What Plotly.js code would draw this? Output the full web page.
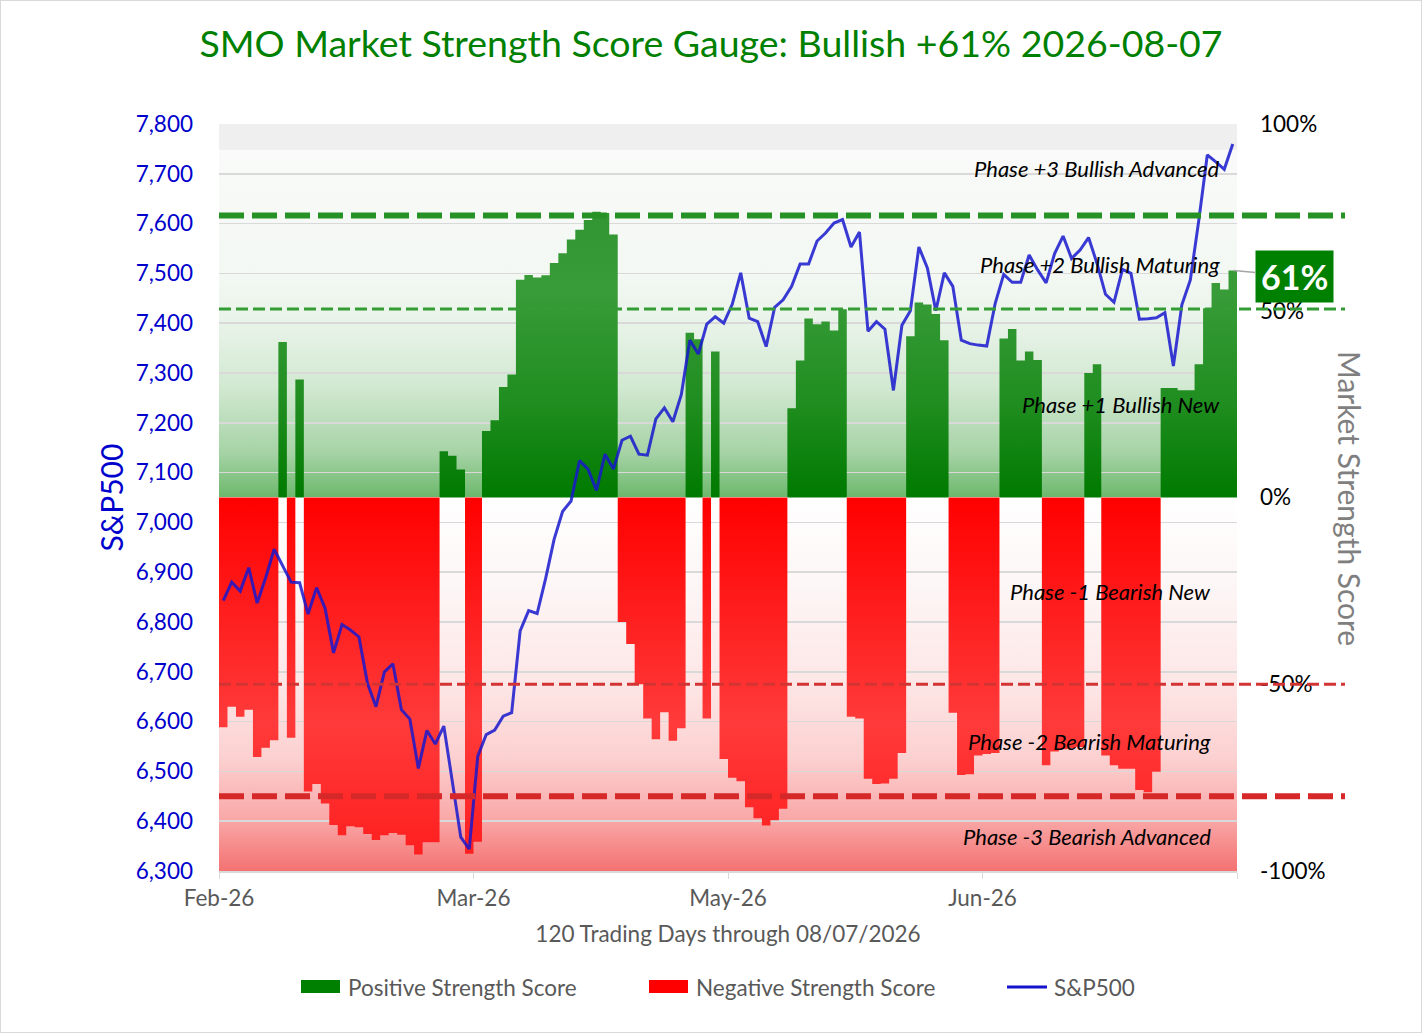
<!DOCTYPE html>
<html>
<head>
<meta charset="utf-8">
<script src="https://cdn.plot.ly/plotly-3.0.1.min.js"></script>
<style>
  body { margin: 0; background: #fff; }
  #wrap { position: relative; width: 1422px; height: 1033px; }
  #frame { position: absolute; left: 0; top: 0; width: 1422px; height: 1033px;
           box-sizing: border-box; border: 1px solid #d9d9d9; pointer-events: none; }
</style>
</head>
<body>
<div id="wrap">
  <div id="chart" style="width:1422px;height:1033px;"></div>
  <div id="frame"></div>
</div>
<script>
// Market strength score (%) per trading day, 120 days
const scores = [
  -61.5, -56, -58.7, -56.8, -69.5, -67, -65, 41.6, -64.3, 31.6,
  -78.7, -76.7, -81.9, -87.7, -90.4, -88, -88.3, -90.1, -91.7, -90.4,
  -89.8, -90.3, -93.1, -95.6, -92.3, -92.3, 12.4, 11.2, 7.5, -95.4,
  -92.2, 17.8, 20.7, 29.6, 32.9, 58.3, 59.6, 58.9, 59.5, 62.8,
  65.4, 69.1, 71.7, 74.3, 76.5, 76.2, 70.4, -33.3, -39.2, -50,
  -59.2, -64.7, -57.5, -65.1, -61.8, 44.1, 42.4, -59.2, 39.1, -70,
  -75, -76, -82.9, -85.9, -87.8, -86.4, -83.3, 23.9, 36.7, 47.9,
  46.4, 47.1, 44.7, 50.4, -58.7, -59.2, -75.3, -76.7, -76.6, -75.3,
  -68.4, 43.2, 52.2, 51.7, 49.1, 42.1, -57.6, -74.3, -74.1, -69.1,
  -68.7, -68.4, 42.6, 45.1, 36.7, 39.1, 36.8, -71.7, -68, -67.4,
  -67.1, -66.8, 33.3, 35.7, -69.1, -71.7, -72.6, -72.6, -78.3, -78.9,
  -73.4, 29.3, 29.3, 28.7, 28.7, 35.7, 50.7, 57.4, 55.7, 60.8
];

// S&P500 close per trading day
const spx = [
  6843, 6880, 6862, 6909, 6838, 6889, 6946, 6914, 6880, 6879,
  6816, 6869, 6828, 6738, 6795, 6784, 6770, 6677, 6630, 6700,
  6716, 6624, 6605, 6506, 6582, 6555, 6591, 6480, 6368, 6344,
  6530, 6574, 6583, 6611, 6618, 6782, 6823, 6817, 6887, 6966,
  7022, 7043, 7124, 7107, 7064, 7137, 7107, 7165, 7173, 7137,
  7135, 7208, 7230, 7202, 7257, 7366, 7338, 7398, 7413, 7400,
  7438, 7501, 7410, 7403, 7353, 7432, 7447, 7474, 7519, 7519,
  7565, 7581, 7601, 7608, 7553, 7583, 7384, 7403, 7388, 7265,
  7396, 7425, 7553, 7511, 7425, 7501, 7474, 7366, 7359, 7356,
  7354, 7440, 7498, 7482, 7482, 7537, 7507, 7481, 7540, 7575,
  7530, 7547, 7572, 7520, 7458, 7442, 7508, 7500, 7408, 7409,
  7411, 7421, 7314, 7437, 7487, 7607, 7738, 7724, 7709, 7760
];

const tickDays = [0, 30, 60, 90, 120];
const tickLabels = ['Feb-26', 'Mar-26', 'May-26', 'Jun-26', ''];
const pctTicks = [-100, -50, 0, 50, 100];

const phaseLabels = ['Phase +3 Bullish Advanced', 'Phase +2 Bullish Maturing', 'Phase +1 Bullish New',
                     'Phase -1 Bearish New', 'Phase -2 Bearish Maturing', 'Phase -3 Bearish Advanced'];
const phaseLevels = [88, 62.4, 25, -25.2, -65.4, -90.8];

// phase threshold lines: level, colour, width, dash
const thresholds = [
  {level: 75.5, color: 'rgb(38,146,38)', width: 6, dash: '25px,8px'},
  {level: 50.5, color: 'rgb(52,156,52)', width: 3, dash: '12px,5px'},
  {level: -50, color: 'rgb(210,52,52)', width: 3, dash: '12px,5px'},
  {level: -80, color: 'rgb(214,40,40)', width: 6, dash: '25px,8px'}
];

const FONT = 'Lato, "Open Sans", sans-serif';
const TXT = 22.5;

// plot area in pixels
const PL = 219, PR = 1237, PT = 124, PB = 871;
const px = x => (x - PL) / (PR - PL);
const py = y => (PB - y) / (PB - PT);

// one stepped polygon per run of same-sign days
function runPolygons(sign) {
  const xs = [], ys = [];
  let i = 0;
  while (i < scores.length) {
    if (Math.sign(scores[i]) !== sign) { i++; continue; }
    const start = i;
    xs.push(start); ys.push(0);
    while (i < scores.length && Math.sign(scores[i]) === sign) {
      xs.push(i, i + 1); ys.push(scores[i], scores[i]);
      i++;
    }
    xs.push(i, start, null); ys.push(0, 0, null);
  }
  return {xs, ys};
}

const pos = runPolygons(1);
const neg = runPolygons(-1);

const posTrace = {
  x: pos.xs, y: pos.ys, type: 'scatter', mode: 'lines', fill: 'toself',
  name: 'Positive Strength Score', showlegend: false, hoverinfo: 'skip',
  line: {width: 0, color: 'rgba(0,0,0,0)'},
  fillcolor: '#2a9a2a',
  fillgradient: {
    type: 'vertical', start: 0, stop: 100,
    colorscale: [[0, '#007a00'], [0.25, '#1f8d1f'], [0.55, '#389c38'], [1, '#2a8e2a']]
  },
  xaxis: 'x', yaxis: 'y'
};

const negTrace = {
  x: neg.xs, y: neg.ys, type: 'scatter', mode: 'lines', fill: 'toself',
  name: 'Negative Strength Score', showlegend: false, hoverinfo: 'skip',
  line: {width: 0, color: 'rgba(0,0,0,0)'},
  fillcolor: '#ff2a2a',
  fillgradient: {
    type: 'vertical', start: -100, stop: 0,
    colorscale: [[0, '#ff1c1c'], [0.4, '#ff3a3a'], [1, '#ff0000']]
  },
  xaxis: 'x', yaxis: 'y'
};

const spxTrace = {
  x: spx.map((v, i) => i + 0.5), y: spx, type: 'scatter', mode: 'lines',
  name: 'S&P500', showlegend: false,
  line: {color: 'rgba(24,24,206,0.85)', width: 3},
  xaxis: 'x', yaxis: 'y2'
};

// background gradient behind the plot area
const bgSvg = `<svg xmlns='http://www.w3.org/2000/svg' width='100' height='1000' preserveAspectRatio='none'>
<defs><linearGradient id='g' x1='0' y1='0' x2='0' y2='1'>
<stop offset='0' stop-color='#efefef'/><stop offset='0.034' stop-color='#efefef'/>
<stop offset='0.035' stop-color='#f9faf9'/><stop offset='0.2' stop-color='#f3f8f3'/>
<stop offset='0.27' stop-color='#e8f3e8'/><stop offset='0.35' stop-color='#d2e9d2'/>
<stop offset='0.44' stop-color='#a6d3a6'/><stop offset='0.5' stop-color='#6cb86c'/>
<stop offset='0.5' stop-color='#ffffff'/><stop offset='0.62' stop-color='#fdf6f6'/>
<stop offset='0.75' stop-color='#fde6e6'/><stop offset='0.85' stop-color='#fcd0d0'/>
<stop offset='0.93' stop-color='#f9a8a8'/><stop offset='1' stop-color='#f47272'/>
</linearGradient></defs><rect width='100' height='1000' fill='url(#g)'/></svg>`;

const shapes = thresholds.map(t => ({
  type: 'line', xref: 'paper', yref: 'y', x0: 0, x1: px(1345), y0: t.level, y1: t.level,
  line: {color: t.color, width: t.width, dash: t.dash}, layer: 'above'
}));

// custom legend swatches
shapes.push(
  {type: 'rect', xref: 'paper', yref: 'paper', x0: px(301), x1: px(340), y0: py(993), y1: py(980),
   fillcolor: '#008000', line: {width: 0}},
  {type: 'rect', xref: 'paper', yref: 'paper', x0: px(649), x1: px(688), y0: py(993), y1: py(980),
   fillcolor: '#ff0000', line: {width: 0}},
  {type: 'line', xref: 'paper', yref: 'paper', x0: px(1007), x1: px(1047), y0: py(987), y1: py(987),
   line: {color: '#1414cc', width: 3}}
);

const annotations = phaseLabels.map((t, k) => ({
  text: '<i>' + t + '</i>', xref: 'paper', yref: 'y',
  x: px(phaseLevels[k] > 0 ? 1222 : 1213), y: phaseLevels[k],
  xanchor: 'right', yanchor: 'middle', showarrow: false,
  font: {family: FONT, size: 22, color: '#000'}
}));

const last = scores.length - 1;
annotations.push({
  text: '<b>' + Math.round(scores[last]) + '%</b>', xref: 'x', yref: 'y',
  x: last + 0.6, y: scores[last], ax: 61, ay: 6, axref: 'pixel', ayref: 'pixel',
  showarrow: true, arrowhead: 0, arrowwidth: 1.5, arrowcolor: '#a6a6a6', standoff: 0,
  bgcolor: '#008000', borderpad: 5, font: {family: FONT, size: 34, color: '#fff'}
});

annotations.push({
  text: 'Market Strength Score', xref: 'paper', yref: 'paper', x: px(1350), y: py(498),
  textangle: 90, showarrow: false, xanchor: 'center', yanchor: 'middle',
  font: {family: FONT, size: 30, color: '#7f7f7f'}
});

const legendItems = [
  {text: 'Positive Strength Score', x: 346},
  {text: 'Negative Strength Score', x: 694},
  {text: 'S&P500', x: 1052}
];
legendItems.forEach(it => annotations.push({
  text: it.text, xref: 'paper', yref: 'paper', x: px(it.x), y: py(987),
  xanchor: 'left', yanchor: 'middle', showarrow: false,
  font: {family: FONT, size: 22.5, color: '#595959'}
}));

const layout = {
  width: 1422, height: 1033,
  margin: {l: PL, r: 1422 - PR, t: PT, b: 1033 - PB},
  paper_bgcolor: '#ffffff', plot_bgcolor: 'rgba(0,0,0,0)',
  font: {family: FONT},
  showlegend: false,
  title: {
    text: 'SMO Market Strength Score Gauge: Bullish +61% 2026-08-07',
    font: {family: FONT, size: 37.5, color: '#008000'},
    x: 0.5, xref: 'container', y: 1 - 44 / 1033, yref: 'container', yanchor: 'middle'
  },
  xaxis: {
    range: [0, 120], tickvals: tickDays, ticktext: tickLabels,
    showgrid: false, zeroline: false, showline: true, linecolor: '#d9d9d9', linewidth: 1.5,
    ticks: 'outside', ticklen: 6, tickcolor: '#d9d9d9',
    tickfont: {family: FONT, size: TXT, color: '#595959'},
    title: {text: '120 Trading Days through 08/07/2026', standoff: 16,
            font: {family: FONT, size: TXT, color: '#595959'}}
  },
  yaxis: {
    side: 'right', range: [-100, 100], tickvals: pctTicks,
    ticktext: pctTicks.map(v => v + '%'),
    showgrid: false, zeroline: false, showline: false, ticks: '',
    ticklabelstandoff: 22,
    tickfont: {family: FONT, size: TXT, color: '#000'}
  },
  yaxis2: {
    overlaying: 'y', side: 'left', range: [6300, 7800], dtick: 100, tickformat: ',d',
    showgrid: true, gridcolor: '#d9d9d9', gridwidth: 1.5, zeroline: false, showline: false,
    ticks: '', ticklabelstandoff: 25,
    tickfont: {family: FONT, size: TXT, color: '#0000cc'},
    title: {text: 'S&P500', standoff: 3, font: {family: FONT, size: 30, color: '#0000cc'}}
  },
  images: [{
    source: 'data:image/svg+xml;charset=utf-8,' + encodeURIComponent(bgSvg),
    xref: 'paper', yref: 'paper', x: 0, y: 1, sizex: 1, sizey: 1,
    xanchor: 'left', yanchor: 'top', sizing: 'stretch', layer: 'below'
  }],
  shapes: shapes,
  annotations: annotations
};

Plotly.newPlot('chart', [posTrace, negTrace, spxTrace], layout, {displayModeBar: false, staticPlot: true});
</script>
</body>
</html>
